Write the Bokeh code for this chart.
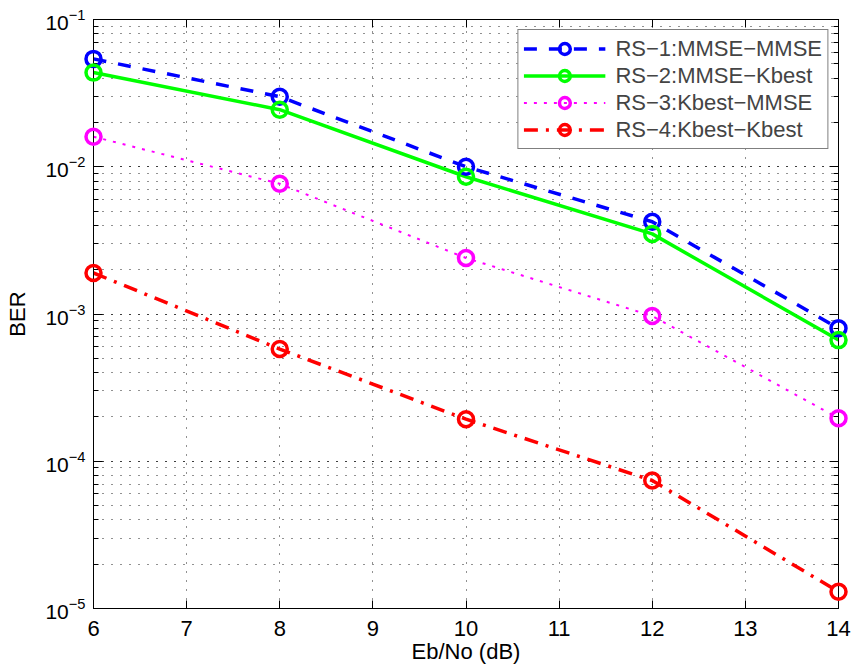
from bokeh.plotting import figure
from bokeh.models import (Range1d, FixedTicker, LogTicker, LinearAxis, LogAxis, Legend,
                          LegendItem, LogTickFormatter, CustomJSTickFormatter)
from bokeh.embed import file_html
from bokeh.resources import INLINE

# ---- data ----
ebno = [6, 8, 10, 12, 14]
rs1 = [0.054, 0.0299, 0.0100, 0.00423, 0.00080]
rs2 = [0.0436, 0.0244, 0.00855, 0.0035, 0.000665]
rs3 = [0.016, 0.00766, 0.0024, 0.00097, 0.000196]
rs4 = [0.0019, 0.000578, 0.000193, 7.4e-5, 1.3e-5]
names = ["RS\u22121:MMSE\u2212MMSE", "RS\u22122:MMSE\u2212Kbest",
         "RS\u22123:Kbest\u2212MMSE", "RS\u22124:Kbest\u2212Kbest"]
x_ticks = [6, 7, 8, 9, 10, 11, 12, 13, 14]

FONT = "Liberation Sans"

p = figure(width=854, height=672, output_backend="svg", toolbar_location=None,
           x_range=Range1d(6, 14), y_range=Range1d(1e-5, 1e-1), y_axis_type="log",
           min_border_left=93, min_border_right=16, min_border_top=19, min_border_bottom=64)
p.background_fill_color = "white"
p.border_fill_color = "white"
p.outline_line_color = "black"
p.outline_line_width = 1

xt = FixedTicker(ticks=x_ticks)
yt = LogTicker(num_minor_ticks=10)

# bottom axis
xa = p.xaxis[0]
xa.ticker = xt
xa.axis_label = "Eb/No (dB)"
xa.axis_label_text_font = FONT
xa.axis_label_text_font_size = "22px"
xa.axis_label_text_font_style = "normal"
xa.axis_label_standoff = 0
xa.major_label_text_font = FONT
xa.major_label_text_font_size = "22px"
xa.major_label_standoff = 12
xa.major_tick_in = 8
xa.major_tick_out = 0
xa.minor_tick_line_color = None
xa.axis_line_color = "black"
xa.major_tick_line_color = "black"
xa.major_label_text_color = "black"
xa.axis_label_text_color = "black"

# left axis
ya = p.yaxis[0]
ya.ticker = yt
ya.formatter = LogTickFormatter()
ya.major_label_text_font = FONT
ya.major_label_text_font_size = "21px"
ya.major_label_text_color = "black"
ya.major_label_standoff = 8
ya.axis_label = "BER"
ya.axis_label_text_font = FONT
ya.axis_label_text_font_size = "22px"
ya.axis_label_text_font_style = "normal"
ya.axis_label_text_color = "black"
ya.axis_label_standoff = 12
ya.major_tick_in = 9
ya.major_tick_out = 0
ya.minor_tick_in = 5
ya.minor_tick_out = 0
ya.axis_line_color = "black"
ya.major_tick_line_color = "black"
ya.minor_tick_line_color = "black"

# mirrored axes (ticks only)
top = LinearAxis(ticker=xt, formatter=CustomJSTickFormatter(code="return ''"),
                 major_tick_in=8, major_tick_out=0, minor_tick_line_color=None,
                 axis_line_color="black", major_tick_line_color="black",
                 major_label_text_font_size="0px", major_label_standoff=0)
p.add_layout(top, "above")
right = LogAxis(ticker=yt, formatter=CustomJSTickFormatter(code="return ''"),
                major_tick_in=9, major_tick_out=0, minor_tick_in=5, minor_tick_out=0,
                axis_line_color="black", major_tick_line_color="black",
                minor_tick_line_color="black", major_label_text_font_size="0px",
                major_label_standoff=0)
p.add_layout(right, "right")

# grids
p.xgrid.ticker = xt
p.xgrid.grid_line_color = "#222222"
p.xgrid.grid_line_dash = "1 8"
p.xgrid.grid_line_width = 1
p.ygrid.ticker = yt
p.ygrid.grid_line_color = "#222222"
p.ygrid.grid_line_dash = "1 8"
p.ygrid.minor_grid_line_color = "#222222"
p.ygrid.minor_grid_line_dash = "1 8"

series = [rs1, rs2, rs3, rs4]
colors = ["#0000ff", "#00ff00", "#ff00ff", "#ff0000"]
dashes = ["13 12", "solid", "3 7", "14 8 3 8"]
widths = [3.5, 3.5, 2, 3.5]

items = []
for ys, c, d, w, n in zip(series, colors, dashes, widths, names):
    lr = p.line(ebno, ys, line_color=c, line_dash=d, line_width=w)
    sr = p.scatter(ebno, ys, marker="circle", size=15, fill_color=None, line_color=c,
                   line_width=3.5, level="overlay")
    items.append(LegendItem(label=n, renderers=[lr, sr]))

legend = Legend(items=items, location="top_right", margin=10, padding=5,
                border_line_color="black", border_line_width=1, background_fill_color="white",
                background_fill_alpha=1.0, label_text_font=FONT, label_text_font_size="22px",
                label_height=27, glyph_height=27, glyph_width=82, spacing=0,
                label_standoff=10, label_text_baseline="middle")
p.add_layout(legend, "center")

open("out.html", "w").write(file_html(p, INLINE))
